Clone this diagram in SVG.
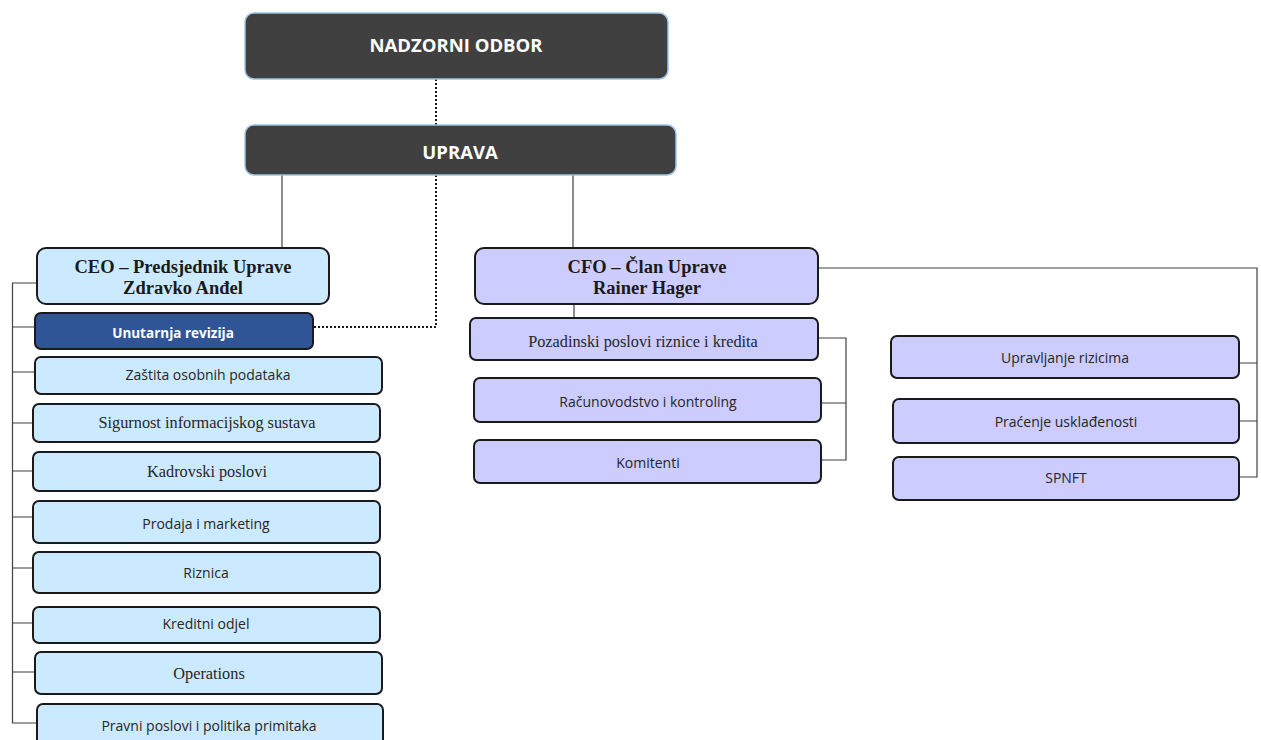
<svg xmlns="http://www.w3.org/2000/svg" width="1261" height="740" viewBox="0 0 1261 740">
<style>
.dark{fill:#404040;stroke:#9dc3e6;stroke-width:1.5}
.ceo{fill:#cceaff;stroke:#1a1a1a;stroke-width:2}
.cfo{fill:#ccccff;stroke:#1a1a1a;stroke-width:2}
.ia{fill:#2f5597;stroke:#1a1a1a;stroke-width:2}
.ln{fill:none;stroke:#404040;stroke-width:1.2}
.dot{fill:none;stroke:#1a1a1a;stroke-width:2;stroke-dasharray:2 2}
.hw{font-family:"Open Sans",sans-serif;font-weight:bold;fill:#ffffff;text-anchor:middle}
.tb{font-family:"Liberation Serif",serif;font-weight:bold;font-size:18.5px;fill:#1a1a1a;text-anchor:middle}
.ts{font-family:"Liberation Serif",serif;font-size:16.3px;fill:#262626;text-anchor:middle}
.sn{font-family:"Open Sans",sans-serif;font-size:14px;fill:#262626;text-anchor:middle}
</style>
<rect width="1261" height="740" fill="#ffffff"/>
<g id="connectors">
<path class="dot" d="M436 79V125"/>
<path class="dot" d="M436 175V327H313"/>
<path class="ln" d="M282 175V248"/>
<path class="ln" d="M573 175V248"/>
<path class="ln" d="M574 304V318"/>
<path class="ln" d="M37 283H12.5V723H37"/>
<path class="ln" d="M12.5 327H35M12.5 372H35M12.5 423H33M12.5 471H33M12.5 517H33M12.5 568H33M12.5 623H33M12.5 672H35"/>
<path class="ln" d="M818 338H846V460H821M821 403H846"/>
<path class="ln" d="M818 268H1257V477H1239M1239 363H1257M1239 421H1257"/>
</g>
<g id="nadzorni"><rect class="dark" x="245" y="13" width="423" height="66" rx="9"/><text class="hw" x="456" y="52" font-size="18.5">NADZORNI ODBOR</text></g>
<g id="uprava"><rect class="dark" x="245" y="125" width="431" height="50" rx="9"/><text class="hw" x="460" y="159" font-size="18.5">UPRAVA</text></g>
<g id="ceo"><rect class="ceo" x="37" y="248" width="292" height="56" rx="9"/><text class="tb" x="183" y="273">CEO – Predsjednik Uprave</text><text class="tb" x="183" y="294">Zdravko Anđel</text></g>
<g id="unutarnja"><rect class="ia" x="35" y="313" width="278" height="36" rx="6"/><text class="hw" x="173" y="338" font-size="13.5">Unutarnja revizija</text></g>
<g id="zastita"><rect class="ceo" x="35" y="357" width="347" height="37" rx="6"/><text class="sn" x="208" y="380">Zaštita osobnih podataka</text></g>
<g id="sigurnost"><rect class="ceo" x="33" y="404" width="347" height="38" rx="6"/><text class="ts" x="207" y="428">Sigurnost informacijskog sustava</text></g>
<g id="kadrovski"><rect class="ceo" x="33" y="452" width="347" height="39" rx="6"/><text class="ts" x="207" y="477">Kadrovski poslovi</text></g>
<g id="prodaja"><rect class="ceo" x="33" y="501" width="347" height="42" rx="6"/><text class="sn" x="206" y="529">Prodaja i marketing</text></g>
<g id="riznica"><rect class="ceo" x="33" y="552" width="347" height="41" rx="6"/><text class="sn" x="206" y="578">Riznica</text></g>
<g id="kreditni"><rect class="ceo" x="33" y="607" width="347" height="36" rx="6"/><text class="sn" x="206" y="629">Kreditni odjel</text></g>
<g id="operations"><rect class="ceo" x="35" y="652" width="347" height="42" rx="6"/><text class="ts" x="209" y="679">Operations</text></g>
<g id="pravni"><rect class="ceo" x="37" y="704" width="346" height="46" rx="6"/><text class="sn" x="209" y="731">Pravni poslovi i politika primitaka</text></g>
<g id="cfo"><rect class="cfo" x="475" y="248" width="343" height="56" rx="9"/><text class="tb" x="647" y="273">CFO – Član Uprave</text><text class="tb" x="647" y="294">Rainer Hager</text></g>
<g id="pozadinski"><rect class="cfo" x="470" y="318" width="348" height="42" rx="6"/><text class="ts" x="643" y="347">Pozadinski poslovi riznice i kredita</text></g>
<g id="racunovodstvo"><rect class="cfo" x="474" y="378" width="347" height="44" rx="6"/><text class="sn" x="648" y="407">Računovodstvo i kontroling</text></g>
<g id="komitenti"><rect class="cfo" x="474" y="440" width="347" height="43" rx="6"/><text class="sn" x="648" y="468">Komitenti</text></g>
<g id="upravljanje"><rect class="cfo" x="891" y="336" width="348" height="42" rx="6"/><text class="sn" x="1065" y="363">Upravljanje rizicima</text></g>
<g id="pracenje"><rect class="cfo" x="893" y="399" width="346" height="44" rx="6"/><text class="sn" x="1066" y="427">Praćenje usklađenosti</text></g>
<g id="spnft"><rect class="cfo" x="893" y="457" width="346" height="43" rx="6"/><text class="sn" x="1066" y="483">SPNFT</text></g>
</svg>
